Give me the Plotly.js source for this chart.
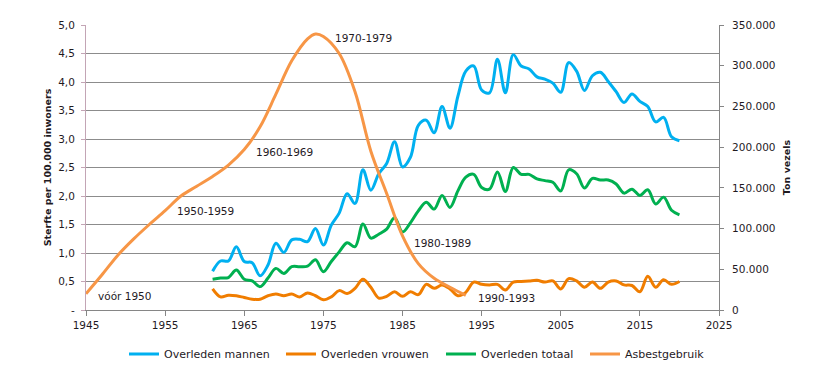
<!DOCTYPE html>
<html>
<head>
<meta charset="utf-8">
<script src="https://cdn.plot.ly/plotly-3.0.1.min.js"></script>
<style>html,body{margin:0;padding:0;background:#fff;}#chart{width:836px;height:377px;}</style>
</head>
<body>
<div id="chart"></div>
<script>
// ---- data ----
const years = [1961,1962,1963,1964,1965,1966,1967,1968,1969,1970,
               1971,1972,1973,1974,1975,1976,1977,1978,1979,1980,
               1981,1982,1983,1984,1985,1986,1987,1988,1989,1990,
               1991,1992,1993,1994,1995,1996,1997,1998,1999,2000,
               2001,2002,2003,2004,2005,2006,2007,2008,2009,2010,
               2011,2012,2013,2014,2015,2016,2017,2018,2019,2020];
const mannen = [0.68,0.86,0.86,1.11,0.85,0.83,0.60,0.79,1.17,1.01,
                1.23,1.24,1.20,1.43,1.14,1.49,1.70,2.04,1.87,2.46,
                2.10,2.39,2.57,2.95,2.51,2.68,3.24,3.33,3.11,3.57,
                3.19,3.75,4.19,4.28,3.86,3.81,4.40,3.81,4.48,4.28,
                4.23,4.09,4.05,3.98,3.82,4.34,4.19,3.85,4.11,4.17,
                4.01,3.83,3.64,3.79,3.66,3.57,3.30,3.38,3.04,2.97];
const vrouwen = [0.37,0.23,0.26,0.25,0.22,0.19,0.19,0.25,0.28,0.25,
                 0.28,0.23,0.30,0.25,0.18,0.23,0.34,0.29,0.38,0.54,
                 0.40,0.21,0.24,0.32,0.24,0.32,0.27,0.45,0.38,0.44,
                 0.37,0.25,0.31,0.49,0.45,0.44,0.45,0.35,0.49,0.50,
                 0.51,0.52,0.49,0.51,0.37,0.55,0.51,0.40,0.49,0.38,
                 0.49,0.51,0.44,0.43,0.32,0.59,0.40,0.53,0.45,0.50];
const totaal = [0.54,0.56,0.57,0.70,0.54,0.51,0.41,0.56,0.73,0.64,
                0.76,0.76,0.77,0.88,0.67,0.85,1.02,1.18,1.11,1.51,
                1.26,1.33,1.42,1.62,1.37,1.53,1.74,1.89,1.77,2.01,
                1.80,2.09,2.33,2.38,2.15,2.12,2.42,2.08,2.50,2.38,
                2.38,2.30,2.27,2.24,2.09,2.46,2.39,2.14,2.31,2.28,
                2.28,2.21,2.05,2.12,2.01,2.11,1.86,1.98,1.75,1.67];
const asbestJaren = [1945,1947,1949,1951,1953,1955,1957,1959,1961,1963,1965,1967,1969,1971,1973,1974,1975,1977,1979,1981,1983,1985,1987,1989,1991,1993];
const asbestTon   = [20000,43000,67000,87000,105000,122000,140000,152000,164000,178000,197000,225000,265000,306000,333000,339000,336000,315000,268000,195000,143000,91000,57000,39000,28000,18000];

const seriesNames = ['Overleden mannen','Overleden vrouwen','Overleden totaal','Asbestgebruik'];
const periodLabels = ['vóór 1950','1950-1959','1960-1969','1970-1979','1980-1989','1990-1993'];
const periodX = [1949.9,1960.1,1970.1,1980.1,1990.1,1998.1];
const periodY = [0.245,1.74,2.77,4.77,1.18,0.21];

const leftTickVals = [0,0.5,1,1.5,2,2.5,3,3.5,4,4.5,5];
const leftTickText = ['-','0,5','1,0','1,5','2,0','2,5','3,0','3,5','4,0','4,5','5,0'];
const rightTickVals = [0,50000,100000,150000,200000,250000,300000,350000];
const rightTickText = ['0','50.000','100.000','150.000','200.000','250.000','300.000','350.000'];
const xTickVals = [1945,1955,1965,1975,1985,1995,2005,2015,2025];

// ---- styles ----
const txt = '#1F1A1F';
const font = 'DejaVu Sans, Verdana, sans-serif';
const colors = ['#00B0F0','#F07D00','#00B050','#F79646'];
const legendIds = ['legend','legend2','legend3','legend4'];
const legendTextStart = [165, 322, 482, 626];

const traces = [
  {x: years, y: mannen, name: seriesNames[0], legend: legendIds[0], type:'scatter', mode:'lines', line:{color:colors[0], width:3, shape:'spline', smoothing:1}},
  {x: years, y: vrouwen, name: seriesNames[1], legend: legendIds[1], type:'scatter', mode:'lines', line:{color:colors[1], width:3, shape:'spline', smoothing:1}},
  {x: years, y: totaal, name: seriesNames[2], legend: legendIds[2], type:'scatter', mode:'lines', line:{color:colors[2], width:3, shape:'spline', smoothing:1}},
  {x: asbestJaren, y: asbestTon, name: seriesNames[3], legend: legendIds[3], yaxis:'y2', type:'scatter', mode:'lines', line:{color:colors[3], width:3, shape:'spline', smoothing:1}}
];

const annotations = periodLabels.map((t,i)=>({
  text: t, x: periodX[i], y: periodY[i], xref:'x', yref:'y', showarrow:false,
  font:{family:font, size:10.5, color:txt}, xanchor:'center', yanchor:'middle'
}));

const layout = {
  width: 836, height: 377,
  margin: {l:86, r:117, t:25, b:67, pad:0},
  paper_bgcolor:'#ffffff', plot_bgcolor:'#ffffff',
  font: {family: font, size: 10.5, color: txt},
  showlegend: true,
  xaxis: {range:[1945,2025], tickvals:xTickVals, showgrid:false, zeroline:false,
          showline:true, linecolor:'#868686', linewidth:1, ticks:'outside', ticklen:5, tickcolor:'#868686',
          tickfont:{family:font, size:10.5, color:txt}, fixedrange:true},
  yaxis: {range:[0,5], tickvals:leftTickVals, ticktext:leftTickText, showgrid:true, gridcolor:'#8C8C8C', gridwidth:1,
          zeroline:false, showline:true, linecolor:'#C3A5B5', linewidth:1, ticks:'outside', ticklen:4, tickcolor:'#C3A5B5',
          ticklabelstandoff:4,
          tickfont:{family:font, size:10.5, color:txt},
          title:{text:'Sterfte per 100.000 inwoners', font:{family:font, size:9.5, color:txt, weight:'bold'}, standoff:4}},
  yaxis2: {range:[0,350000], overlaying:'y', side:'right', tickvals:rightTickVals, ticktext:rightTickText,
           showgrid:false, zeroline:false, showline:true, linecolor:'#868686', linewidth:1,
           ticks:'outside', ticklen:4, tickcolor:'#868686', ticklabelstandoff:6,
           tickfont:{family:font, size:10.5, color:txt},
           title:{text:'Ton vezels', font:{family:font, size:9.5, color:txt, weight:'bold'}, standoff:8}},
  annotations: annotations
};
legendIds.forEach((id,i)=>{
  layout[id] = {orientation:'h', xref:'container', yref:'container', x:(legendTextStart[i]-41)/836, xanchor:'left',
                y:0.061, yanchor:'middle', font:{family:font, size:11, color:txt}, bgcolor:'rgba(0,0,0,0)', itemwidth:30};
});

Plotly.newPlot('chart', traces, layout, {displayModeBar:false, staticPlot:true});
</script>
</body>
</html>
